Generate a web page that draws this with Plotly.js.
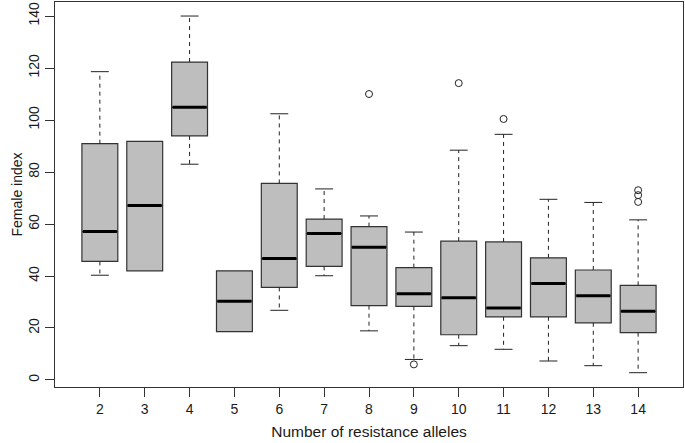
<!DOCTYPE html>
<html>
<head>
<meta charset="utf-8">
<script src="https://cdn.plot.ly/plotly-3.0.1.min.js"></script>
<style>html,body{margin:0;padding:0;background:#fff;}#chart{width:685px;height:443px;}</style>
</head>
<body>
<div id="chart"></div>
<script>
const groups = [2, 3, 4, 5, 6, 7, 8, 9, 10, 11, 12, 13, 14];
const lowerWhisker = [40.3, 42.0, 83.0, 18.6, 26.8, 40.1, 18.9, 7.9, 13.2, 11.8, 7.3, 5.5, 2.8];
const q1 = [45.6, 42.0, 93.9, 18.6, 35.6, 43.7, 28.6, 28.3, 17.4, 24.3, 24.3, 22.0, 18.2];
const medians = [57.1, 67.1, 104.9, 30.3, 46.7, 56.3, 51.1, 33.2, 31.6, 27.7, 37.1, 32.4, 26.4];
const q3 = [90.9, 91.8, 122.3, 42.0, 75.6, 61.9, 59.0, 43.2, 53.4, 53.1, 47.0, 42.3, 36.4];
const upperWhisker = [118.6, 91.8, 140.0, 42.0, 102.4, 73.5, 63.1, 56.9, 88.4, 94.5, 69.5, 68.3, 61.6];
const outlierGroups = [8, 9, 10, 11, 14, 14, 14];
const outlierValues = [110.0, 6.0, 114.2, 100.4, 73.0, 71.1, 68.5];
const yTicks = [0, 20, 40, 60, 80, 100, 120, 140];

const BOX_HALF = 0.4, CAP_HALF = 0.2;
const FONT = 'Liberation Sans, Arial, Helvetica, sans-serif';

// whiskers and caps
const wx = [], wy = [], cx = [], cy = [];
groups.forEach((g, i) => {
  if (upperWhisker[i] > q3[i]) {
    wx.push(g, g, null); wy.push(q3[i], upperWhisker[i], null);
    cx.push(g - CAP_HALF, g + CAP_HALF, null); cy.push(upperWhisker[i], upperWhisker[i], null);
  }
  if (lowerWhisker[i] < q1[i]) {
    wx.push(g, g, null); wy.push(q1[i], lowerWhisker[i], null);
    cx.push(g - CAP_HALF, g + CAP_HALF, null); cy.push(lowerWhisker[i], lowerWhisker[i], null);
  }
});
const mx = [], my = [];
groups.forEach((g, i) => {
  mx.push(g - BOX_HALF + 0.02, g + BOX_HALF - 0.02, null); my.push(medians[i], medians[i], null);
});

const traces = [
  {type: 'scatter', mode: 'lines', x: wx, y: wy, line: {color: '#222', width: 1, dash: '4px,4px'}, hoverinfo: 'skip', showlegend: false},
  {type: 'scatter', mode: 'lines', x: cx, y: cy, line: {color: '#222', width: 1}, hoverinfo: 'skip', showlegend: false},
  {type: 'box', x: groups, q1: q1, median: medians, q3: q3, lowerfence: q1, upperfence: q3,
   width: 2 * BOX_HALF, fillcolor: '#bebebe', line: {color: '#333', width: 1.2}, boxpoints: false,
   hoverinfo: 'skip', showlegend: false},
  {type: 'scatter', mode: 'lines', x: mx, y: my, line: {color: '#000', width: 3}, hoverinfo: 'skip', showlegend: false},
  {type: 'scatter', mode: 'markers', x: outlierGroups, y: outlierValues,
   marker: {symbol: 'circle-open', size: 7, color: '#222', line: {width: 1, color: '#222'}}, hoverinfo: 'skip', showlegend: false}
];

const layout = {
  width: 685, height: 443,
  margin: {l: 55, r: 2, t: 2, b: 56},
  paper_bgcolor: '#fff', plot_bgcolor: '#fff',
  font: {family: FONT, size: 14, color: '#222'},
  showlegend: false,
  xaxis: {
    range: [1, 15], tickvals: groups, ticktext: groups.map(String),
    ticks: 'outside', ticklen: 9, tickcolor: '#333', tickwidth: 1,
    showgrid: false, zeroline: false, showline: true, mirror: true, linecolor: '#333', linewidth: 1,
    tickfont: {family: FONT, size: 14, color: '#1a1a1a'},
    title: {text: 'Number of resistance alleles', font: {family: FONT, size: 15.5, color: '#1a1a1a'}, standoff: 10},
    automargin: false
  },
  yaxis: {
    range: [-2.7, 145.4], tickvals: yTicks, ticktext: yTicks.map(String), tickangle: -90,
    ticks: 'outside', ticklen: 9, tickcolor: '#333', tickwidth: 1,
    showgrid: false, zeroline: false, showline: true, mirror: true, linecolor: '#333', linewidth: 1,
    tickfont: {family: FONT, size: 14, color: '#1a1a1a'},
    title: {text: 'Female index', font: {family: FONT, size: 14, color: '#1a1a1a'}, standoff: 0},
    automargin: false
  }
};

Plotly.newPlot('chart', traces, layout, {displayModeBar: false, staticPlot: true});
</script>
</body>
</html>
